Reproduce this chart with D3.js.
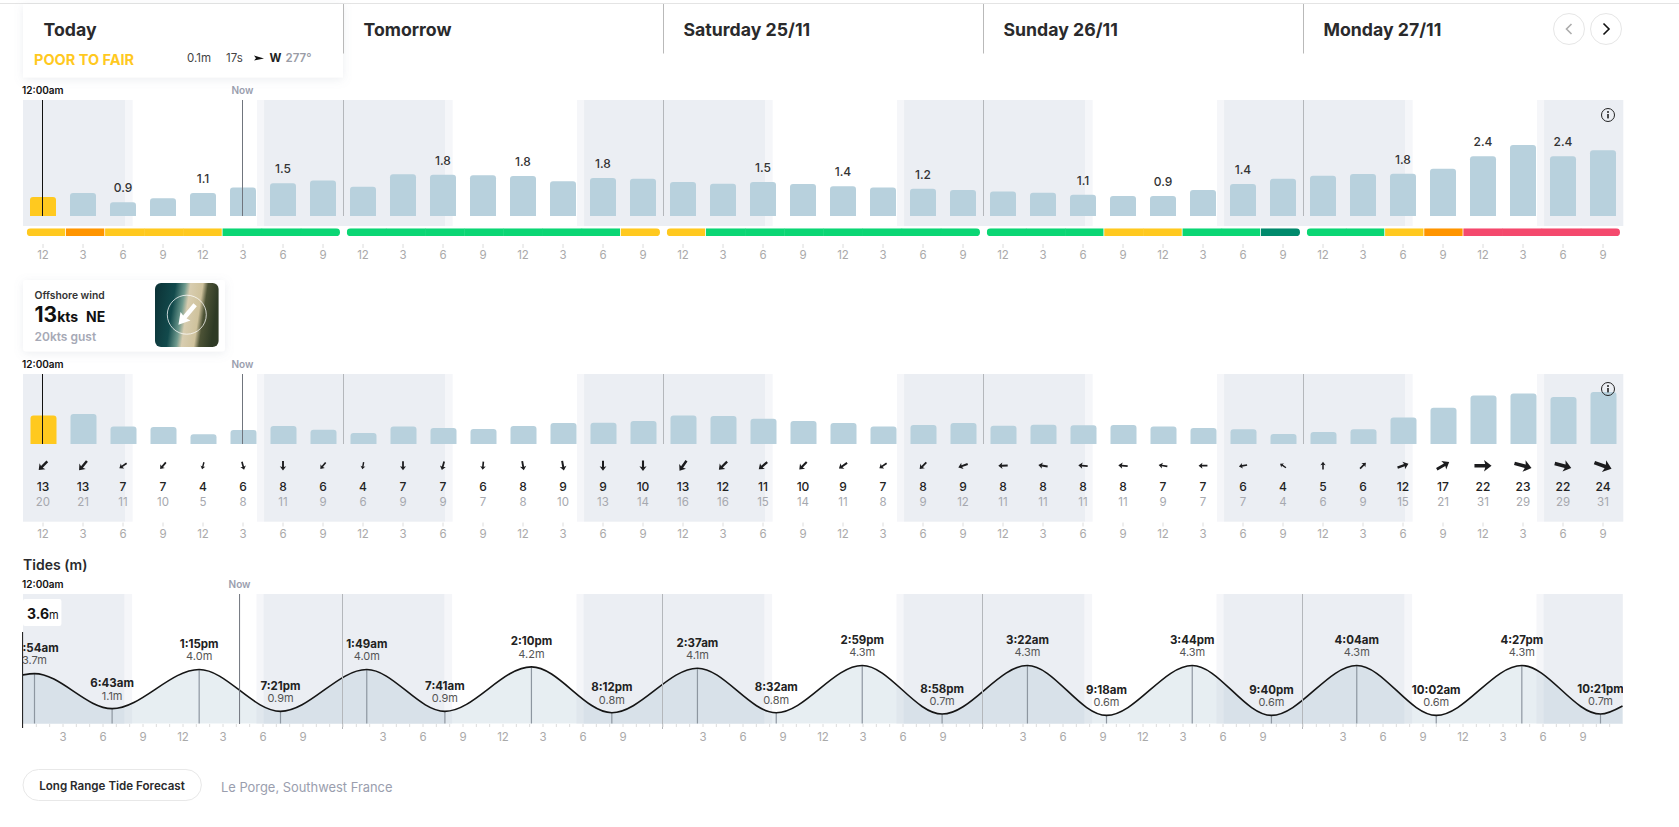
<!DOCTYPE html>
<html>
<head>
<meta charset="utf-8">
<script src="https://cdn.jsdelivr.net/npm/d3@7"></script>
<style>
  body { margin: 0; background: #fff; }
  svg { display: block; font-family: Inter, "Noto Sans", sans-serif; }
  .tick text { fill: #a9a9a9; font-size: 11.5px; font-family: Inter, sans-serif; }
  .tick line { stroke: #dcdcdc; }
</style>
</head>
<body>
<div id="chart"></div>
<script>
// values, one slot every 3 hours over 5 days
var dayLabels = ["Today", "Tomorrow", "Saturday 25/11", "Sunday 26/11", "Monday 27/11"];
var hourLabels = ["12", "3", "6", "9", "12", "3", "6", "9"];
var tideHourLabels = ["", "3", "6", "9", "12", "3", "6", "9"];

var waveHeights = [1.06, 1.19, 0.89, 1.02, 1.19, 1.37, 1.51, 1.60,
                   1.39, 1.80, 1.78, 1.77, 1.74, 1.57, 1.68, 1.65,
                   1.55, 1.49, 1.55, 1.48, 1.41, 1.37, 1.33, 1.29,
                   1.24, 1.20, 1.13, 1.09, 1.09, 1.29, 1.48, 1.65,
                   1.75, 1.81, 1.82, 1.98, 2.39, 2.75, 2.39, 2.58];
var waveSlots = [2, 4, 6, 10, 12, 14, 18, 20, 22, 26, 28, 30, 34, 36, 38];
var waveLabels = ["0.9", "1.1", "1.5", "1.8", "1.8", "1.8", "1.5", "1.4", "1.2", "1.1", "0.9", "1.4", "1.8", "2.4", "2.4"];

var ratings = ["fair", "poor", "fair", "fair", "fair", "good", "good", "good",
               "good", "good", "good", "good", "good", "good", "good", "fair",
               "fair", "good", "good", "good", "good", "good", "good", "good",
               "good", "good", "good", "fair", "fair", "good", "good", "great",
               "good", "good", "fair", "poor", "bad", "bad", "bad", "bad"];
var ratingNames = ["fair", "poor", "good", "great", "bad"];
var ratingColors = ["#ffc91f", "#ff9500", "#0bd674", "#008a6c", "#f4496d"];

var windBars = [13.0, 13.6, 8.0, 7.7, 4.4, 6.4, 8.2, 6.5, 5.0, 8.0, 7.3, 6.8, 8.2,
                9.5, 9.7, 10.5, 13.0, 12.7, 11.5, 10.5, 9.5, 7.9, 8.6, 9.5, 8.3, 8.8, 8.5,
                8.6, 7.9, 7.3, 6.7, 4.5, 5.5, 6.7, 12.1, 16.5, 22.1, 22.9, 21.4, 23.6];
var windSpeed = [13, 13, 7, 7, 4, 6, 8, 6, 4, 7, 7, 6, 8,
                 9, 9, 10, 13, 12, 11, 10, 9, 7, 8, 9, 8, 8, 8,
                 8, 7, 7, 6, 4, 5, 6, 12, 17, 22, 23, 22, 24];
var windGust = [20, 21, 11, 10, 5, 8, 11, 9, 6, 9, 9, 7, 8,
                10, 13, 14, 16, 16, 15, 14, 11, 8, 9, 12, 11, 11, 11,
                11, 9, 7, 7, 4, 6, 9, 15, 21, 31, 29, 29, 31];
var windDirection = [225, 220, 235, 220, 195, 165, 180, 220, 190, 180, 195, 185, 170,
                     170, 180, 180, 215, 225, 230, 225, 235, 235, 225, 250, 268, 280, 275,
                     275, 280, 270, 260, 305, 0, 45, 70, 60, 90, 105, 105, 110];

var tideHours = [0, 0.9, 6.72, 13.25, 19.35, 25.82, 31.68, 38.17, 44.2, 50.62, 56.53, 62.98, 68.97, 75.37, 81.3, 87.73, 93.67, 100.07, 106.03, 112.45, 118.35, 120];
var tideMetres = [3.6, 3.7, 1.1, 4.0, 0.9, 4.0, 0.9, 4.2, 0.8, 4.1, 0.8, 4.3, 0.7, 4.3, 0.6, 4.3, 0.6, 4.3, 0.6, 4.3, 0.7, 1.3];
var tideTimes = ["", "12:54am", "6:43am", "1:15pm", "7:21pm", "1:49am", "7:41am", "2:10pm", "8:12pm", "2:37am", "8:32am", "2:59pm", "8:58pm", "3:22am", "9:18am", "3:44pm", "9:40pm", "4:04am", "10:02am", "4:27pm", "10:21pm", ""];

var nowHour = 16.4625, tideNowHour = 16.28;
var firstLight = 7.65, sunrise = 8.2, sunset = 17.55, lastLight = 18.08;

var width = 1679, height = 827;
var left = 23, right = 1623;

var svg = d3.select("#chart").append("svg")
    .attr("width", width)
    .attr("height", height);

var defs = svg.append("defs");
var shadow = defs.append("filter").attr("id", "cardShadow")
    .attr("x", "-10%").attr("y", "-20%").attr("width", "120%").attr("height", "150%");
shadow.append("feDropShadow")
    .attr("dx", 0).attr("dy", 2).attr("stdDeviation", 5)
    .attr("flood-color", "#8a93a6").attr("flood-opacity", 0.16);

//scales
var xTime = d3.scaleLinear().domain([0, 120]).range([left, right]);
var xTide = d3.scaleLinear().domain([0, 120]).range([left - 0.5, right - 0.5]);
var xBand = d3.scaleBand()
    .domain(d3.range(40))
    .range([left, right])
    .paddingInner(0.35)
    .paddingOuter(0.175);
var slotCenter = function(i) { return xBand(i) + xBand.bandwidth() / 2; };

var waveBase = 216, windBase = 444;
var yWave = d3.scaleLinear().domain([0.44, 3]).range([waveBase, waveBase - 78.6]);
var yWind = d3.scaleLinear().domain([0, 25]).range([windBase, windBase - 55]);
var yTide = d3.scaleLinear().domain([0, 4.3]).range([723.5, 723.5 - 58]);
var arrowScale = d3.scaleLinear().domain([0, 24]).range([0.5, 1.82]);

var barPath = function(x, y, w, h) {
    var r = Math.min(3, h);
    var p = d3.path();
    p.moveTo(x, y + h);
    p.lineTo(x, y + r);
    p.quadraticCurveTo(x, y, x + r, y);
    p.lineTo(x + w - r, y);
    p.quadraticCurveTo(x + w, y, x + w, y + r);
    p.lineTo(x + w, y + h);
    p.closePath();
    return p.toString();
};

// night bands: solid rect plus a paler twilight strip either side
var drawNight = function(g, x, top, bottom) {
    var spans = [[0, firstLight, "#ebeef3"], [firstLight, sunrise, "#f5f6f9"], [sunset, lastLight, "#f5f6f9"], [lastLight, 24, "#ebeef3"]];
    d3.range(5).forEach(function(day) {
        spans.forEach(function(s) {
            var x0 = Math.max(x(day * 24 + s[0]), left);
            var x1 = Math.min(x(day * 24 + s[1]), right);
            if (x1 <= x0) return;
            g.append("rect")
                .attr("x", x0).attr("y", top)
                .attr("width", x1 - x0 + 0.3).attr("height", bottom - top)
                .attr("fill", s[2]);
        });
    });
};

var drawDividers = function(g, x, top, bottom) {
    [24, 48, 72, 96].forEach(function(h) {
        var lineX = Math.floor(x(h)) + 0.5;
        g.append("line")
            .attr("x1", lineX).attr("x2", lineX)
            .attr("y1", top).attr("y2", bottom)
            .attr("stroke", "#b4b7bb").attr("stroke-width", 1);
    });
};

var smallLabel = function(g, x, y, txt, fill) {
    return g.append("text")
        .attr("x", x).attr("y", y)
        .attr("dy", "0.35em")
        .attr("font-size", 10)
        .attr("font-weight", 600)
        .attr("fill", fill)
        .text(txt);
};

var infoIcon = function(y) {
    var g = svg.append("g").attr("transform", "translate(1608," + y + ")");
    g.append("circle").attr("r", 6.5).attr("fill", "none").attr("stroke", "#222").attr("stroke-width", 1);
    g.append("rect").attr("x", -0.8).attr("y", -1).attr("width", 1.6).attr("height", 4.4).attr("fill", "#222");
    g.append("circle").attr("cy", -3).attr("r", 1).attr("fill", "#222");
};

//header
svg.append("line")
    .attr("x1", 0).attr("x2", width).attr("y1", 3.5).attr("y2", 3.5)
    .attr("stroke", "#e4e4e4");

svg.append("rect")
    .attr("x", 23).attr("y", 4).attr("width", 320).attr("height", 73.5)
    .attr("fill", "#fff").attr("filter", "url(#cardShadow)");

dayLabels.forEach(function(d, i) {
    svg.append("text")
        .attr("x", xTime(i * 24) + 20.5).attr("y", 29.5)
        .attr("dy", "0.35em")
        .attr("font-size", 17.7).attr("font-weight", 700)
        .attr("fill", "#2a2a2c")
        .text(d);
    if (i > 0) {
        svg.append("line")
            .attr("x1", xTime(i * 24) + 0.5).attr("x2", xTime(i * 24) + 0.5)
            .attr("y1", 4).attr("y2", 53.5)
            .attr("stroke", "#b9b9b9");
    }
});

svg.append("text").attr("x", 34).attr("y", 59.5).attr("dy", "0.35em")
    .attr("font-size", 14.5).attr("font-weight", 700).attr("fill", "#ffc91f")
    .text("POOR TO FAIR");
[[187, "0.1m", "#444", 400], [226, "17s", "#444", 400], [269.5, "W", "#222", 700], [285.5, "277°", "#9a9ca6", 600]].forEach(function(t) {
    svg.append("text").attr("x", t[0]).attr("y", 58).attr("dy", "0.35em")
        .attr("font-size", 11.5).attr("font-weight", t[3]).attr("fill", t[2])
        .text(t[1]);
});
svg.append("path")
    .attr("d", "M254,55.5 L264,58.5 L254,60.5 L256,58.2 Z")
    .attr("fill", "#111");

[[1569, 0.35, "M1571.5,24 L1566.5,29 L1571.5,34"], [1606, 1, "M1603.5,23.5 L1609,29 L1603.5,34.5"]].forEach(function(b) {
    svg.append("circle").attr("cx", b[0]).attr("cy", 29).attr("r", 15.5)
        .attr("fill", "#fff").attr("stroke", "#e6e6e6");
    svg.append("path").attr("d", b[2]).attr("fill", "none")
        .attr("stroke", "#111").attr("stroke-width", 1.6)
        .attr("opacity", b[1]);
});

//surf height chart
var wave = svg.append("g");
drawNight(wave, xTime, 100, 226);
drawDividers(wave, xTime, 100, waveBase);

wave.selectAll(".bar")
    .data(waveHeights)
    .enter().append("path")
    .attr("class", "bar")
    .attr("d", function(d, i) { return barPath(xBand(i), yWave(d), xBand.bandwidth(), waveBase - yWave(d)); })
    .attr("fill", function(d, i) { return i === 0 ? "#ffc91f" : "#b8d1dd"; });

wave.selectAll(".waveLabel")
    .data(waveSlots)
    .enter().append("text")
    .attr("class", "waveLabel")
    .attr("x", function(d) { return slotCenter(d); })
    .attr("y", function(d) { return yWave(waveHeights[d]) - 14; })
    .attr("dy", "0.35em")
    .attr("text-anchor", "middle")
    .attr("font-size", 12)
    .attr("font-weight", 500)
    .attr("fill", "#333")
    .text(function(d, i) { return waveLabels[i]; });

// rating strip, one rounded strip per day
var ratingColor = d3.scaleOrdinal().domain(ratingNames).range(ratingColors);
d3.range(5).forEach(function(day) {
    var x = d3.scaleLinear().domain([0, 8]).range([xTime(day * 24) + 3.8, xTime(day * 24) + 317]);
    var clipId = "ratingClip" + day;
    defs.append("clipPath").attr("id", clipId).append("rect")
        .attr("x", x(0)).attr("y", 228.3)
        .attr("width", x(8) - x(0)).attr("height", 7.8)
        .attr("rx", 3.9);
    var g = svg.append("g").attr("clip-path", "url(#" + clipId + ")");
    d3.range(8).forEach(function(j) {
        var r = ratings[day * 8 + j];
        var next = ratings[day * 8 + j + 1];
        var gap = (j < 7 && next !== r) ? 0.8 : 0;
        g.append("rect")
            .attr("x", x(j)).attr("y", 228.3)
            .attr("width", x(j + 1) - x(j) - gap + (gap ? 0 : 0.4)).attr("height", 7.8)
            .attr("fill", ratingColor(r));
    });
});

var bandAxis = d3.axisBottom(xBand)
    .tickSize(4)
    .tickPadding(3)
    .tickFormat(function(d) { return hourLabels[d % 8]; });

var drawBandAxis = function(y) {
    var a = svg.append("g").attr("transform", "translate(0," + y + ")").call(bandAxis);
    a.select(".domain").remove();
};
drawBandAxis(244);

// current time markers
var markers = function(top, bottom, labelY) {
    smallLabel(svg, 22, labelY, "12:00am", "#111");
    smallLabel(svg, xTime(nowHour), labelY, "Now", "#9a9eae").attr("text-anchor", "middle");
    svg.append("line").attr("x1", 42.5).attr("x2", 42.5).attr("y1", top).attr("y2", bottom).attr("stroke", "#111");
    svg.append("line").attr("x1", xTime(nowHour)).attr("x2", xTime(nowHour)).attr("y1", top).attr("y2", bottom).attr("stroke", "#70757d");
};
markers(100, waveBase, 90);
infoIcon(115);

//wind card
svg.append("rect")
    .attr("x", 23).attr("y", 280).attr("width", 202).attr("height", 71.5)
    .attr("rx", 3)
    .attr("fill", "#fff").attr("filter", "url(#cardShadow)");
svg.append("text").attr("x", 34.5).attr("y", 295).attr("dy", "0.35em")
    .attr("font-size", 10.3).attr("font-weight", 600).attr("fill", "#333")
    .text("Offshore wind");
var windText = svg.append("text").attr("x", 34.5).attr("y", 316).attr("dy", "0.35em")
    .attr("fill", "#111").attr("font-weight", 700);
windText.append("tspan").attr("font-size", 21).text("13");
windText.append("tspan").attr("font-size", 14).text("kts");
windText.append("tspan").attr("font-size", 14).attr("x", 86).text("NE");
svg.append("text").attr("x", 34.5).attr("y", 337).attr("dy", "0.35em")
    .attr("font-size", 12).attr("font-weight", 600).attr("fill", "#a6a9b6")
    .text("20kts gust");

// beach thumbnail
var beach = defs.append("linearGradient").attr("id", "beach")
    .attr("x1", 0).attr("x2", 1).attr("y1", 0).attr("y2", 0.15);
[[0, "#0c3135"], [0.32, "#124a4c"], [0.47, "#6f9a8e"], [0.55, "#d8cdb0"], [0.74, "#cfc29c"], [0.82, "#4d5336"], [1, "#2e3a25"]].forEach(function(s) {
    beach.append("stop").attr("offset", s[0]).attr("stop-color", s[1]);
});
svg.append("rect")
    .attr("x", 155).attr("y", 283).attr("width", 63.6).attr("height", 64)
    .attr("rx", 6).attr("fill", "url(#beach)");
svg.append("circle")
    .attr("cx", 186.8).attr("cy", 314.7).attr("r", 19.5)
    .attr("fill", "none").attr("stroke", "#fff").attr("stroke-opacity", 0.75);
svg.append("path")
    .attr("d", "M0,-13 L6.5,-2 L2.2,-3 L2.2,13 L-2.2,13 L-2.2,-3 L-6.5,-2 Z")
    .attr("transform", "translate(186.8,314.7) rotate(220)")
    .attr("fill", "#fff");

//wind chart
var wind = svg.append("g");
drawNight(wind, xTime, 374, 521.7);
drawDividers(wind, xTime, 374, windBase);

wind.selectAll(".bar")
    .data(windBars)
    .enter().append("path")
    .attr("class", "bar")
    .attr("d", function(d, i) { return barPath(xBand(i) + 0.5, yWind(d), xBand.bandwidth(), windBase - yWind(d)); })
    .attr("fill", function(d, i) { return i === 0 ? "#ffc91f" : "#b8d1dd"; });

wind.selectAll(".arrow")
    .data(windDirection)
    .enter().append("path")
    .attr("class", "arrow")
    .attr("d", "M0,-5 L3.4,-0.6 L1,-1.3 L1,5 L-1,5 L-1,-1.3 L-3.4,-0.6 Z")
    .attr("transform", function(d, i) {
        return "translate(" + slotCenter(i) + ",465.7) rotate(" + d + ") scale(" + arrowScale(windSpeed[i]) + ")";
    })
    .attr("fill", "#1c1c1e");

wind.selectAll(".speed")
    .data(windSpeed)
    .enter().append("text")
    .attr("class", "speed")
    .attr("x", function(d, i) { return slotCenter(i); })
    .attr("y", 486.3)
    .attr("dy", "0.35em")
    .attr("text-anchor", "middle")
    .attr("font-size", 12)
    .attr("font-weight", 500)
    .attr("fill", "#222")
    .text(function(d) { return d; });

wind.selectAll(".gust")
    .data(windGust)
    .enter().append("text")
    .attr("class", "gust")
    .attr("x", function(d, i) { return slotCenter(i); })
    .attr("y", 502.3)
    .attr("dy", "0.35em")
    .attr("text-anchor", "middle")
    .attr("font-size", 11.5)
    .attr("fill", "#a6a8ae")
    .text(function(d) { return d; });

drawBandAxis(522.5);
markers(374, windBase, 364.3);
infoIcon(389);

//tides
svg.append("text").attr("x", 23).attr("y", 564.7).attr("dy", "0.35em")
    .attr("font-size", 14).attr("font-weight", 600).attr("fill", "#2a2a2c")
    .text("Tides (m)");
smallLabel(svg, 22, 584, "12:00am", "#111");
smallLabel(svg, xTide(tideNowHour), 584, "Now", "#9a9eae").attr("text-anchor", "middle");

var tide = svg.append("g");
drawNight(tide, xTide, 594, 724);

defs.append("clipPath").attr("id", "tideClip").append("rect")
    .attr("x", left).attr("y", 590).attr("width", right - left).attr("height", 140);

var tideData = tideHours.map(function(h, i) { return { hour: h, metres: tideMetres[i], time: tideTimes[i] }; });
var extremes = tideData.filter(function(d) { return d.time !== ""; });

var tideArea = d3.area()
    .x(function(d) { return xTide(d.hour); })
    .y0(yTide(0))
    .y1(function(d) { return yTide(d.metres); })
    .curve(d3.curveMonotoneX);
var tideLine = d3.line()
    .x(function(d) { return xTide(d.hour); })
    .y(function(d) { return yTide(d.metres); })
    .curve(d3.curveMonotoneX);

var tidePlot = tide.append("g").attr("clip-path", "url(#tideClip)");
tidePlot.append("path").datum(tideData)
    .attr("d", tideArea)
    .attr("fill", "#a9c3d2").attr("fill-opacity", 0.28);

tidePlot.selectAll(".extreme")
    .data(extremes)
    .enter().append("line")
    .attr("class", "extreme")
    .attr("x1", function(d) { return xTide(d.hour); })
    .attr("x2", function(d) { return xTide(d.hour); })
    .attr("y1", function(d) { return yTide(d.metres); })
    .attr("y2", yTide(0))
    .attr("stroke", "#8d96a0").attr("stroke-width", 1.2);

drawDividers(tide, xTide, 594, 729);
tide.append("line")
    .attr("x1", xTide(tideNowHour)).attr("x2", xTide(tideNowHour))
    .attr("y1", 594).attr("y2", 724)
    .attr("stroke", "#70757d");

tidePlot.append("path").datum(tideData)
    .attr("d", tideLine)
    .attr("fill", "none").attr("stroke", "#151515").attr("stroke-width", 1.6);

tidePlot.selectAll(".tideTime")
    .data(extremes)
    .enter().append("text")
    .attr("class", "tideTime")
    .attr("x", function(d) { return xTide(d.hour); })
    .attr("y", function(d) { return yTide(d.metres) - 25.5; })
    .attr("dy", "0.35em")
    .attr("text-anchor", "middle")
    .attr("font-size", 11.5).attr("font-weight", 700).attr("fill", "#222")
    .text(function(d) { return d.time; });

tidePlot.selectAll(".tideValue")
    .data(extremes)
    .enter().append("text")
    .attr("class", "tideValue")
    .attr("x", function(d) { return xTide(d.hour); })
    .attr("y", function(d) { return yTide(d.metres) - 13; })
    .attr("dy", "0.35em")
    .attr("text-anchor", "middle")
    .attr("font-size", 11).attr("fill", "#555")
    .text(function(d) { return d.metres.toFixed(1) + "m"; });

svg.append("line")
    .attr("x1", 22.6).attr("x2", 22.6).attr("y1", 632).attr("y2", 728)
    .attr("stroke", "#111");

svg.append("rect")
    .attr("x", 23).attr("y", 599).attr("width", 38.4).attr("height", 27)
    .attr("rx", 2).attr("fill", "#fff");
var tideNowText = svg.append("text").attr("x", 27).attr("y", 613).attr("dy", "0.35em")
    .attr("fill", "#111");
tideNowText.append("tspan").attr("font-size", 14).attr("font-weight", 700).text(tideMetres[0]);
tideNowText.append("tspan").attr("font-size", 11).text("m");

// hourly ticks, labelled every 3 hours, nothing at midnight
var tideAxis = d3.axisBottom(xTide)
    .tickValues(d3.range(1, 120))
    .tickSize(3)
    .tickFormat(function(d) { return d % 3 === 0 ? tideHourLabels[(d % 24) / 3] : ""; });
var tideAxisG = svg.append("g").attr("transform", "translate(0,724)").call(tideAxis);
tideAxisG.select(".domain").remove();
tideAxisG.selectAll(".tick text").attr("dy", "0.95em");
tideAxisG.selectAll(".tick line").attr("stroke", "#9a9a9a");

//footer
svg.append("rect")
    .attr("x", 23).attr("y", 769.5).attr("width", 178.4).attr("height", 31)
    .attr("rx", 15.5)
    .attr("fill", "#fff").attr("stroke", "#e8e8e8");
svg.append("text").attr("x", 112).attr("y", 786).attr("dy", "0.35em")
    .attr("text-anchor", "middle")
    .attr("font-size", 11.6).attr("font-weight", 600).attr("fill", "#2a2a2c")
    .text("Long Range Tide Forecast");
svg.append("text").attr("x", 221).attr("y", 787).attr("dy", "0.35em")
    .attr("font-size", 12.9).attr("fill", "#9a9eae")
    .text("Le Porge, Southwest France");
</script>
</body>
</html>
